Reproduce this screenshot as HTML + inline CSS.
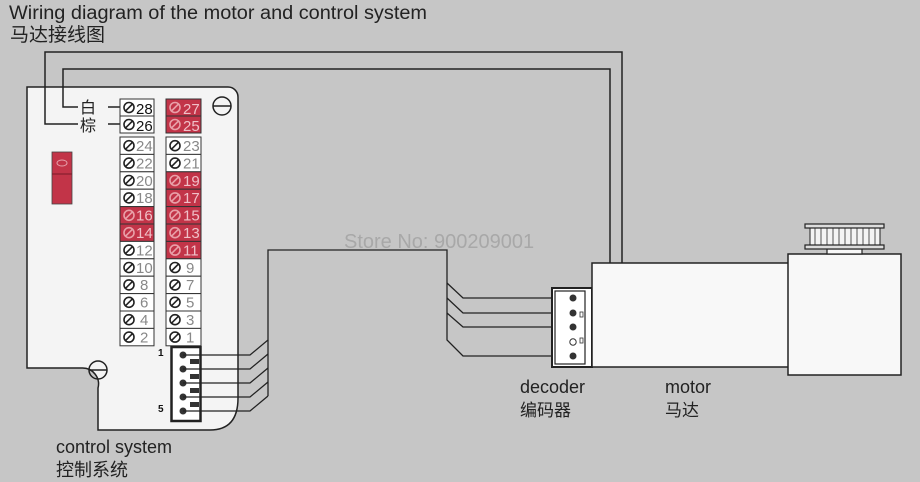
<!DOCTYPE html>
<html><head><meta charset="utf-8"><style>
html,body{margin:0;padding:0;background:#c6c6c6;}
svg{display:block;font-family:"Liberation Sans","Noto Sans CJK SC",sans-serif;}
</style></head><body>
<svg width="920" height="482" viewBox="0 0 920 482" xmlns="http://www.w3.org/2000/svg">
<defs>
<g id="sc"><circle cx="0" cy="0" r="5" fill="none" stroke="#222" stroke-width="1.6"/><line x1="-4" y1="4" x2="4" y2="-4" stroke="#222" stroke-width="1.6"/></g>
<g id="scw"><circle cx="0" cy="0" r="5" fill="none" stroke="#e8a0a8" stroke-width="1.6"/><line x1="-4" y1="4" x2="4" y2="-4" stroke="#e8a0a8" stroke-width="1.6"/></g>
</defs>
<rect width="920" height="482" fill="#c6c6c6"/>
<text x="9" y="19" font-size="19" fill="#222" textLength="418" lengthAdjust="spacingAndGlyphs">Wiring diagram of the motor and control system</text>
<text x="10" y="41" font-size="19" fill="#222">马达接线图</text>

<!-- board -->
<path d="M27,87 H228 A10,10 0 0 1 238,97 V398 Q238,430 210,430 H98 V388 A16,16 0 0 0 82,368 H27 Z" fill="#f4f4f4" stroke="#222" stroke-width="1.5"/>

<!-- top wires -->
<g fill="none" stroke="#222" stroke-width="1.5">
<polyline points="78,124 45,124 45,52 622,52 622,263"/>
<polyline points="78,107 63,107 63,69 610,69 610,263"/>
<line x1="108" y1="107" x2="120" y2="107"/>
<line x1="108" y1="124" x2="120" y2="124"/>
</g>
<text x="80" y="113" font-size="16" fill="#222">白</text>
<text x="80" y="131" font-size="16" fill="#222">棕</text>
<!-- red switch -->
<rect x="52" y="152" width="20" height="52" fill="#c23448" stroke="#444" stroke-width="0.8"/>
<line x1="52" y1="174" x2="72" y2="174" stroke="#7a1a28" stroke-width="1"/>
<ellipse cx="62" cy="163" rx="5" ry="3" fill="none" stroke="#e6a0aa" stroke-width="1"/>
<!-- screws -->
<g fill="none" stroke="#222" stroke-width="1.5">
<circle cx="222" cy="106" r="9"/><line x1="213" y1="106" x2="231" y2="106"/>
<circle cx="98" cy="370" r="9"/><line x1="89" y1="370" x2="107" y2="370"/>
</g>

<!-- terminal columns -->
<g font-size="15">
<rect x="120" y="99" width="34" height="17" fill="#fff" stroke="#333" stroke-width="1"/>
<use href="#sc" x="129" y="107.5"/><text x="136" y="114" fill="#111">28</text>
<rect x="120" y="116" width="34" height="17" fill="#fff" stroke="#333" stroke-width="1"/>
<use href="#sc" x="129" y="124.5"/><text x="136" y="131" fill="#111">26</text>
<rect x="166" y="99" width="35" height="17" fill="#c23448" stroke="#333" stroke-width="1"/>
<use href="#scw" x="175" y="107.5"/><text x="183" y="114" fill="#f0c0c8">27</text>
<rect x="166" y="116" width="35" height="17" fill="#c23448" stroke="#333" stroke-width="1"/>
<use href="#scw" x="175" y="124.5"/><text x="183" y="131" fill="#f0c0c8">25</text>

<rect x="120" y="137" width="34" height="17.4" fill="#fff" stroke="#333"/><use href="#sc" x="129" y="145.7"/><text x="136" y="151" fill="#888">24</text>
<rect x="120" y="154.4" width="34" height="17.4" fill="#fff" stroke="#333"/><use href="#sc" x="129" y="163.1"/><text x="136" y="168.4" fill="#888">22</text>
<rect x="120" y="171.8" width="34" height="17.4" fill="#fff" stroke="#333"/><use href="#sc" x="129" y="180.5"/><text x="136" y="185.8" fill="#888">20</text>
<rect x="120" y="189.2" width="34" height="17.4" fill="#fff" stroke="#333"/><use href="#sc" x="129" y="197.9"/><text x="136" y="203.2" fill="#888">18</text>
<rect x="120" y="206.6" width="34" height="17.4" fill="#c23448" stroke="#333"/><use href="#scw" x="129" y="215.3"/><text x="136" y="220.6" fill="#f0c0c8">16</text>
<rect x="120" y="224" width="34" height="17.4" fill="#c23448" stroke="#333"/><use href="#scw" x="129" y="232.7"/><text x="136" y="238" fill="#f0c0c8">14</text>
<rect x="120" y="241.4" width="34" height="17.4" fill="#fff" stroke="#333"/><use href="#sc" x="129" y="250.1"/><text x="136" y="255.4" fill="#888">12</text>
<rect x="120" y="258.8" width="34" height="17.4" fill="#fff" stroke="#333"/><use href="#sc" x="129" y="267.5"/><text x="136" y="272.8" fill="#888">10</text>
<rect x="120" y="276.2" width="34" height="17.4" fill="#fff" stroke="#333"/><use href="#sc" x="129" y="284.9"/><text x="140" y="290.2" fill="#888">8</text>
<rect x="120" y="293.6" width="34" height="17.4" fill="#fff" stroke="#333"/><use href="#sc" x="129" y="302.3"/><text x="140" y="307.6" fill="#888">6</text>
<rect x="120" y="311" width="34" height="17.4" fill="#fff" stroke="#333"/><use href="#sc" x="129" y="319.7"/><text x="140" y="325" fill="#888">4</text>
<rect x="120" y="328.4" width="34" height="17.4" fill="#fff" stroke="#333"/><use href="#sc" x="129" y="337.1"/><text x="140" y="342.4" fill="#888">2</text>

<rect x="166" y="137" width="35" height="17.4" fill="#fff" stroke="#333"/><use href="#sc" x="175" y="145.7"/><text x="183" y="151" fill="#888">23</text>
<rect x="166" y="154.4" width="35" height="17.4" fill="#fff" stroke="#333"/><use href="#sc" x="175" y="163.1"/><text x="183" y="168.4" fill="#888">21</text>
<rect x="166" y="171.8" width="35" height="17.4" fill="#c23448" stroke="#333"/><use href="#scw" x="175" y="180.5"/><text x="183" y="185.8" fill="#f0c0c8">19</text>
<rect x="166" y="189.2" width="35" height="17.4" fill="#c23448" stroke="#333"/><use href="#scw" x="175" y="197.9"/><text x="183" y="203.2" fill="#f0c0c8">17</text>
<rect x="166" y="206.6" width="35" height="17.4" fill="#c23448" stroke="#333"/><use href="#scw" x="175" y="215.3"/><text x="183" y="220.6" fill="#f0c0c8">15</text>
<rect x="166" y="224" width="35" height="17.4" fill="#c23448" stroke="#333"/><use href="#scw" x="175" y="232.7"/><text x="183" y="238" fill="#f0c0c8">13</text>
<rect x="166" y="241.4" width="35" height="17.4" fill="#c23448" stroke="#333"/><use href="#scw" x="175" y="250.1"/><text x="183" y="255.4" fill="#f0c0c8">11</text>
<rect x="166" y="258.8" width="35" height="17.4" fill="#fff" stroke="#333"/><use href="#sc" x="175" y="267.5"/><text x="186" y="272.8" fill="#888">9</text>
<rect x="166" y="276.2" width="35" height="17.4" fill="#fff" stroke="#333"/><use href="#sc" x="175" y="284.9"/><text x="186" y="290.2" fill="#888">7</text>
<rect x="166" y="293.6" width="35" height="17.4" fill="#fff" stroke="#333"/><use href="#sc" x="175" y="302.3"/><text x="186" y="307.6" fill="#888">5</text>
<rect x="166" y="311" width="35" height="17.4" fill="#fff" stroke="#333"/><use href="#sc" x="175" y="319.7"/><text x="186" y="325" fill="#888">3</text>
<rect x="166" y="328.4" width="35" height="17.4" fill="#fff" stroke="#333"/><use href="#sc" x="175" y="337.1"/><text x="186" y="342.4" fill="#888">1</text>
</g>

<!-- control connector -->
<rect x="171.5" y="347" width="29" height="74" fill="#fff" stroke="#222" stroke-width="2.5"/>
<g fill="#333">
<circle cx="183" cy="355" r="3.5"/><circle cx="183" cy="369" r="3.5"/><circle cx="183" cy="383" r="3.5"/><circle cx="183" cy="397" r="3.5"/><circle cx="183" cy="411" r="3.5"/>
<rect x="190" y="359" width="9" height="5"/><rect x="190" y="374" width="9" height="5"/><rect x="190" y="388" width="9" height="5"/><rect x="190" y="402" width="9" height="5"/>
</g>
<text x="158" y="356" font-size="10" font-weight="bold" fill="#111">1</text>
<text x="158" y="412" font-size="10" font-weight="bold" fill="#111">5</text>

<!-- wiring bundle -->
<g fill="none" stroke="#222" stroke-width="1.3">
<polyline points="183,355 250,355 268,340 268,250 447,250 447,340 463,356 573,356"/>
<polyline points="183,369 250,369 268,354"/>
<polyline points="183,383 250,383 268,368"/>
<polyline points="183,397 250,397 268,382"/>
<polyline points="183,411 250,411 268,396"/>
<line x1="268" y1="340" x2="268" y2="396"/>
<polyline points="447,283 463,298 573,298"/>
<polyline points="447,298 463,313 573,313"/>
<polyline points="447,313 463,327 573,327"/>
</g>

<text x="344" y="248" font-size="20" fill="#a8a8a8">Store No: 900209001</text>

<!-- decoder -->
<rect x="552" y="288" width="40" height="79" fill="#fff" stroke="#222" stroke-width="2"/>
<rect x="555" y="291" width="30" height="73" fill="none" stroke="#222" stroke-width="1.2"/>
<g fill="#333">
<circle cx="573" cy="298" r="3.5"/><circle cx="573" cy="313" r="3.5"/><circle cx="573" cy="327" r="3.5"/><circle cx="573" cy="356" r="3.5"/>
</g>
<circle cx="573" cy="342" r="3.2" fill="#fff" stroke="#333" stroke-width="1"/>
<rect x="580" y="312" width="3" height="5" fill="#fff" stroke="#333" stroke-width="0.8"/>
<rect x="580" y="338" width="3" height="5" fill="#fff" stroke="#333" stroke-width="0.8"/>

<!-- motor -->
<rect x="592" y="263" width="197" height="104" fill="#f8f8f8" stroke="#222" stroke-width="1.5"/>
<rect x="788" y="254" width="113" height="121" fill="#f8f8f8" stroke="#222" stroke-width="1.5"/>
<rect x="827" y="249" width="35" height="5" fill="#f8f8f8" stroke="#222" stroke-width="1.2"/>
<rect x="810" y="228" width="70" height="17" fill="#f4f4f4" stroke="#222" stroke-width="1"/>
<g stroke="#555" stroke-width="1">
<line x1="815" y1="228" x2="815" y2="245"/><line x1="821" y1="228" x2="821" y2="245"/><line x1="827" y1="228" x2="827" y2="245"/><line x1="833" y1="228" x2="833" y2="245"/><line x1="839" y1="228" x2="839" y2="245"/><line x1="845" y1="228" x2="845" y2="245"/><line x1="851" y1="228" x2="851" y2="245"/><line x1="857" y1="228" x2="857" y2="245"/><line x1="863" y1="228" x2="863" y2="245"/><line x1="869" y1="228" x2="869" y2="245"/><line x1="875" y1="228" x2="875" y2="245"/>
</g>
<rect x="805" y="224" width="79" height="4" fill="#ddd" stroke="#222" stroke-width="1.2"/>
<rect x="805" y="245" width="79" height="4" fill="#ddd" stroke="#222" stroke-width="1.2"/>

<!-- labels -->
<text x="520" y="393" font-size="18" fill="#222">decoder</text>
<text x="520" y="416" font-size="17" fill="#222">编码器</text>
<text x="665" y="393" font-size="18" fill="#222">motor</text>
<text x="665" y="416" font-size="17" fill="#222">马达</text>
<text x="56" y="453" font-size="18" fill="#222">control system</text>
<text x="56" y="476" font-size="18" fill="#222">控制系统</text>
</svg>
</body></html>
